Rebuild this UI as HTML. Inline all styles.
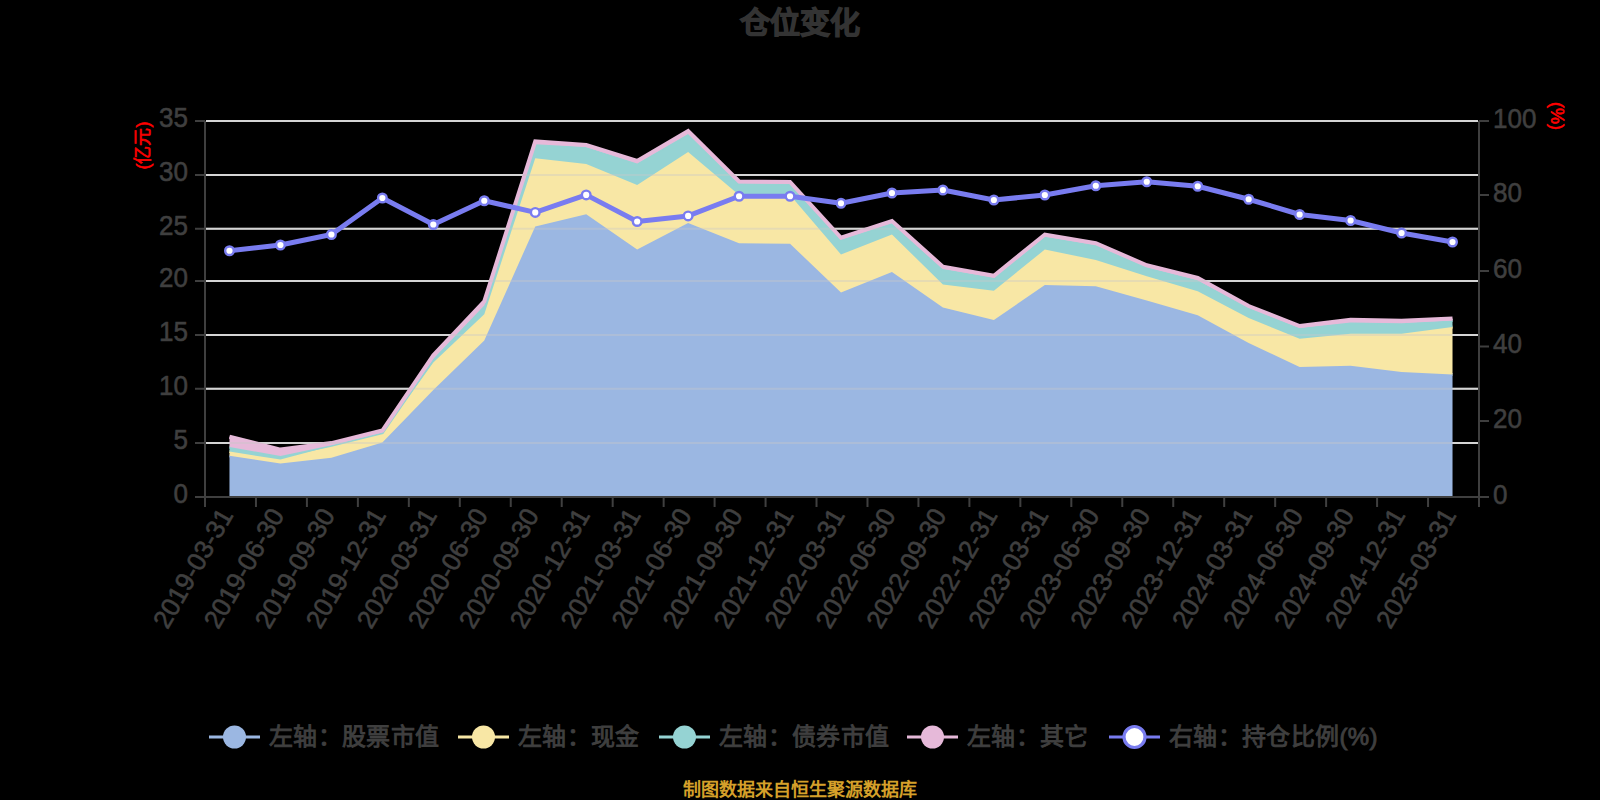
<!DOCTYPE html>
<html lang="zh-CN"><head><meta charset="utf-8"><style>
html,body{margin:0;padding:0;background:#000;width:1600px;height:800px;overflow:hidden}
svg{display:block}
text{font-family:"Liberation Sans",sans-serif}
.yl{font-size:28px;fill:#3f3f3f;stroke:#3f3f3f;stroke-width:0.6px}
.xl{font-size:26px;fill:#3f3f3f;stroke:#3f3f3f;stroke-width:0.6px}
.an{font-size:18px;fill:#ff0000;stroke:#ff0000;stroke-width:0.6px}
.lg{font-size:24px;letter-spacing:0.35px;fill:#3f3f3f;stroke:#3f3f3f;stroke-width:0.9px}
.tt{font-size:30px;font-weight:bold;fill:#333;stroke:#333;stroke-width:1.2px}
.ft{font-size:18px;font-weight:bold;fill:#d5a02a}
</style></head><body>
<svg width="1600" height="800" viewBox="0 0 1600 800">
<line x1="206.0" y1="121.0" x2="1478.0" y2="121.0" stroke="#dedede" stroke-width="2"/>
<line x1="206.0" y1="175.0" x2="1478.0" y2="175.0" stroke="#dedede" stroke-width="2"/>
<line x1="206.0" y1="228.75" x2="1478.0" y2="228.75" stroke="#dedede" stroke-width="2"/>
<line x1="206.0" y1="281.0" x2="1478.0" y2="281.0" stroke="#dedede" stroke-width="2"/>
<line x1="206.0" y1="335.0" x2="1478.0" y2="335.0" stroke="#dedede" stroke-width="2"/>
<line x1="206.0" y1="388.75" x2="1478.0" y2="388.75" stroke="#dedede" stroke-width="2"/>
<line x1="206.0" y1="443.0" x2="1478.0" y2="443.0" stroke="#dedede" stroke-width="2"/>
<polygon points="229.48,455.80 280.44,463.60 331.40,457.70 382.36,442.50 433.32,390.00 484.28,340.50 535.24,226.40 586.20,214.15 637.16,249.50 688.12,222.90 739.08,243.25 790.04,243.75 841.00,292.50 891.96,272.00 942.92,307.50 993.88,320.00 1044.84,285.00 1095.80,286.25 1146.76,300.50 1197.72,315.25 1248.68,343.00 1299.64,367.00 1350.60,365.75 1401.56,372.00 1452.52,374.50 1452.52,497.00 1401.56,497.00 1350.60,497.00 1299.64,497.00 1248.68,497.00 1197.72,497.00 1146.76,497.00 1095.80,497.00 1044.84,497.00 993.88,497.00 942.92,497.00 891.96,497.00 841.00,497.00 790.04,497.00 739.08,497.00 688.12,497.00 637.16,497.00 586.20,497.00 535.24,497.00 484.28,497.00 433.32,497.00 382.36,497.00 331.40,497.00 280.44,497.00 229.48,497.00" fill="#9bb7e2"/>
<polyline points="229.48,455.80 280.44,463.60 331.40,457.70 382.36,442.50 433.32,390.00 484.28,340.50 535.24,226.40 586.20,214.15 637.16,249.50 688.12,222.90 739.08,243.25 790.04,243.75 841.00,292.50 891.96,272.00 942.92,307.50 993.88,320.00 1044.84,285.00 1095.80,286.25 1146.76,300.50 1197.72,315.25 1248.68,343.00 1299.64,367.00 1350.60,365.75 1401.56,372.00 1452.52,374.50" fill="none" stroke="#9bb7e2" stroke-width="3.0" stroke-linejoin="miter"/>
<polygon points="229.48,451.50 280.44,459.60 331.40,445.90 382.36,433.50 433.32,362.50 484.28,314.25 535.24,158.15 586.20,164.10 637.16,185.10 688.12,152.00 739.08,195.00 790.04,195.00 841.00,254.50 891.96,234.50 942.92,284.50 993.88,290.75 1044.84,249.50 1095.80,260.00 1146.76,276.25 1197.72,291.25 1248.68,318.00 1299.64,338.75 1350.60,333.75 1401.56,333.75 1452.52,327.00 1452.52,374.50 1401.56,372.00 1350.60,365.75 1299.64,367.00 1248.68,343.00 1197.72,315.25 1146.76,300.50 1095.80,286.25 1044.84,285.00 993.88,320.00 942.92,307.50 891.96,272.00 841.00,292.50 790.04,243.75 739.08,243.25 688.12,222.90 637.16,249.50 586.20,214.15 535.24,226.40 484.28,340.50 433.32,390.00 382.36,442.50 331.40,457.70 280.44,463.60 229.48,455.80" fill="#f8e7a5"/>
<polyline points="229.48,451.50 280.44,459.60 331.40,445.90 382.36,433.50 433.32,362.50 484.28,314.25 535.24,158.15 586.20,164.10 637.16,185.10 688.12,152.00 739.08,195.00 790.04,195.00 841.00,254.50 891.96,234.50 942.92,284.50 993.88,290.75 1044.84,249.50 1095.80,260.00 1146.76,276.25 1197.72,291.25 1248.68,318.00 1299.64,338.75 1350.60,333.75 1401.56,333.75 1452.52,327.00" fill="none" stroke="#f8e7a5" stroke-width="3.0" stroke-linejoin="miter"/>
<polygon points="229.48,447.00 280.44,456.00 331.40,445.30 382.36,432.60 433.32,358.75 484.28,305.50 535.24,144.15 586.20,147.10 637.16,163.40 688.12,134.00 739.08,183.25 790.04,183.75 841.00,239.50 891.96,223.00 942.92,269.00 993.88,277.50 1044.84,236.75 1095.80,245.00 1146.76,267.00 1197.72,280.25 1248.68,307.50 1299.64,328.00 1350.60,322.50 1401.56,323.25 1452.52,320.50 1452.52,327.00 1401.56,333.75 1350.60,333.75 1299.64,338.75 1248.68,318.00 1197.72,291.25 1146.76,276.25 1095.80,260.00 1044.84,249.50 993.88,290.75 942.92,284.50 891.96,234.50 841.00,254.50 790.04,195.00 739.08,195.00 688.12,152.00 637.16,185.10 586.20,164.10 535.24,158.15 484.28,314.25 433.32,362.50 382.36,433.50 331.40,445.90 280.44,459.60 229.48,451.50" fill="#95d3d3"/>
<polyline points="229.48,447.00 280.44,456.00 331.40,445.30 382.36,432.60 433.32,358.75 484.28,305.50 535.24,144.15 586.20,147.10 637.16,163.40 688.12,134.00 739.08,183.25 790.04,183.75 841.00,239.50 891.96,223.00 942.92,269.00 993.88,277.50 1044.84,236.75 1095.80,245.00 1146.76,267.00 1197.72,280.25 1248.68,307.50 1299.64,328.00 1350.60,322.50 1401.56,323.25 1452.52,320.50" fill="none" stroke="#95d3d3" stroke-width="3.0" stroke-linejoin="miter"/>
<polygon points="229.48,436.70 280.44,449.60 331.40,443.10 382.36,430.50 433.32,355.25 484.28,301.40 535.24,141.30 586.20,145.10 637.16,160.90 688.12,131.10 739.08,181.50 790.04,182.00 841.00,237.75 891.96,221.00 942.92,266.75 993.88,275.75 1044.84,234.50 1095.80,243.25 1146.76,265.25 1197.72,278.00 1248.68,306.00 1299.64,326.00 1350.60,319.75 1401.56,320.75 1452.52,318.50 1452.52,320.50 1401.56,323.25 1350.60,322.50 1299.64,328.00 1248.68,307.50 1197.72,280.25 1146.76,267.00 1095.80,245.00 1044.84,236.75 993.88,277.50 942.92,269.00 891.96,223.00 841.00,239.50 790.04,183.75 739.08,183.25 688.12,134.00 637.16,163.40 586.20,147.10 535.24,144.15 484.28,305.50 433.32,358.75 382.36,432.60 331.40,445.30 280.44,456.00 229.48,447.00" fill="#e6b9d9"/>
<polyline points="229.48,436.70 280.44,449.60 331.40,443.10 382.36,430.50 433.32,355.25 484.28,301.40 535.24,141.30 586.20,145.10 637.16,160.90 688.12,131.10 739.08,181.50 790.04,182.00 841.00,237.75 891.96,221.00 942.92,266.75 993.88,275.75 1044.84,234.50 1095.80,243.25 1146.76,265.25 1197.72,278.00 1248.68,306.00 1299.64,326.00 1350.60,319.75 1401.56,320.75 1452.52,318.50" fill="none" stroke="#e6b9d9" stroke-width="4.0" stroke-linejoin="miter"/>
<line x1="206.0" y1="121.0" x2="1478.0" y2="121.0" stroke="#c8c8c8" stroke-opacity="0.38" stroke-width="2"/>
<line x1="206.0" y1="175.0" x2="1478.0" y2="175.0" stroke="#c8c8c8" stroke-opacity="0.38" stroke-width="2"/>
<line x1="206.0" y1="228.75" x2="1478.0" y2="228.75" stroke="#c8c8c8" stroke-opacity="0.38" stroke-width="2"/>
<line x1="206.0" y1="281.0" x2="1478.0" y2="281.0" stroke="#c8c8c8" stroke-opacity="0.38" stroke-width="2"/>
<line x1="206.0" y1="335.0" x2="1478.0" y2="335.0" stroke="#c8c8c8" stroke-opacity="0.38" stroke-width="2"/>
<line x1="206.0" y1="388.75" x2="1478.0" y2="388.75" stroke="#c8c8c8" stroke-opacity="0.38" stroke-width="2"/>
<line x1="206.0" y1="443.0" x2="1478.0" y2="443.0" stroke="#c8c8c8" stroke-opacity="0.38" stroke-width="2"/>
<line x1="205.0" y1="121" x2="205.0" y2="507.0" stroke="#3f3f3f" stroke-width="2"/>
<line x1="1479.0" y1="121" x2="1479.0" y2="507.0" stroke="#3f3f3f" stroke-width="2"/>
<line x1="195.0" y1="497.0" x2="1489.0" y2="497.0" stroke="#3f3f3f" stroke-width="2"/>
<line x1="195.0" y1="121.0" x2="205.0" y2="121.0" stroke="#3f3f3f" stroke-width="2"/>
<line x1="195.0" y1="175.0" x2="205.0" y2="175.0" stroke="#3f3f3f" stroke-width="2"/>
<line x1="195.0" y1="228.75" x2="205.0" y2="228.75" stroke="#3f3f3f" stroke-width="2"/>
<line x1="195.0" y1="281.0" x2="205.0" y2="281.0" stroke="#3f3f3f" stroke-width="2"/>
<line x1="195.0" y1="335.0" x2="205.0" y2="335.0" stroke="#3f3f3f" stroke-width="2"/>
<line x1="195.0" y1="388.75" x2="205.0" y2="388.75" stroke="#3f3f3f" stroke-width="2"/>
<line x1="195.0" y1="443.0" x2="205.0" y2="443.0" stroke="#3f3f3f" stroke-width="2"/>
<line x1="195.0" y1="497.0" x2="205.0" y2="497.0" stroke="#3f3f3f" stroke-width="2"/>
<line x1="1479.0" y1="121.0" x2="1489.0" y2="121.0" stroke="#3f3f3f" stroke-width="2"/>
<line x1="1479.0" y1="195.0" x2="1489.0" y2="195.0" stroke="#3f3f3f" stroke-width="2"/>
<line x1="1479.0" y1="271.0" x2="1489.0" y2="271.0" stroke="#3f3f3f" stroke-width="2"/>
<line x1="1479.0" y1="346.5" x2="1489.0" y2="346.5" stroke="#3f3f3f" stroke-width="2"/>
<line x1="1479.0" y1="421.0" x2="1489.0" y2="421.0" stroke="#3f3f3f" stroke-width="2"/>
<line x1="1479.0" y1="497.0" x2="1489.0" y2="497.0" stroke="#3f3f3f" stroke-width="2"/>
<line x1="255.96" y1="497.0" x2="255.96" y2="507.0" stroke="#3f3f3f" stroke-width="2"/>
<line x1="306.92" y1="497.0" x2="306.92" y2="507.0" stroke="#3f3f3f" stroke-width="2"/>
<line x1="357.88" y1="497.0" x2="357.88" y2="507.0" stroke="#3f3f3f" stroke-width="2"/>
<line x1="408.84" y1="497.0" x2="408.84" y2="507.0" stroke="#3f3f3f" stroke-width="2"/>
<line x1="459.80" y1="497.0" x2="459.80" y2="507.0" stroke="#3f3f3f" stroke-width="2"/>
<line x1="510.76" y1="497.0" x2="510.76" y2="507.0" stroke="#3f3f3f" stroke-width="2"/>
<line x1="561.72" y1="497.0" x2="561.72" y2="507.0" stroke="#3f3f3f" stroke-width="2"/>
<line x1="612.68" y1="497.0" x2="612.68" y2="507.0" stroke="#3f3f3f" stroke-width="2"/>
<line x1="663.64" y1="497.0" x2="663.64" y2="507.0" stroke="#3f3f3f" stroke-width="2"/>
<line x1="714.60" y1="497.0" x2="714.60" y2="507.0" stroke="#3f3f3f" stroke-width="2"/>
<line x1="765.56" y1="497.0" x2="765.56" y2="507.0" stroke="#3f3f3f" stroke-width="2"/>
<line x1="816.52" y1="497.0" x2="816.52" y2="507.0" stroke="#3f3f3f" stroke-width="2"/>
<line x1="867.48" y1="497.0" x2="867.48" y2="507.0" stroke="#3f3f3f" stroke-width="2"/>
<line x1="918.44" y1="497.0" x2="918.44" y2="507.0" stroke="#3f3f3f" stroke-width="2"/>
<line x1="969.40" y1="497.0" x2="969.40" y2="507.0" stroke="#3f3f3f" stroke-width="2"/>
<line x1="1020.36" y1="497.0" x2="1020.36" y2="507.0" stroke="#3f3f3f" stroke-width="2"/>
<line x1="1071.32" y1="497.0" x2="1071.32" y2="507.0" stroke="#3f3f3f" stroke-width="2"/>
<line x1="1122.28" y1="497.0" x2="1122.28" y2="507.0" stroke="#3f3f3f" stroke-width="2"/>
<line x1="1173.24" y1="497.0" x2="1173.24" y2="507.0" stroke="#3f3f3f" stroke-width="2"/>
<line x1="1224.20" y1="497.0" x2="1224.20" y2="507.0" stroke="#3f3f3f" stroke-width="2"/>
<line x1="1275.16" y1="497.0" x2="1275.16" y2="507.0" stroke="#3f3f3f" stroke-width="2"/>
<line x1="1326.12" y1="497.0" x2="1326.12" y2="507.0" stroke="#3f3f3f" stroke-width="2"/>
<line x1="1377.08" y1="497.0" x2="1377.08" y2="507.0" stroke="#3f3f3f" stroke-width="2"/>
<line x1="1428.04" y1="497.0" x2="1428.04" y2="507.0" stroke="#3f3f3f" stroke-width="2"/>
<polyline points="229.48,250.75 280.44,245.00 331.40,234.50 382.36,198.00 433.32,224.50 484.28,200.75 535.24,212.40 586.20,194.90 637.16,221.50 688.12,215.90 739.08,196.25 790.04,196.25 841.00,203.25 891.96,193.00 942.92,190.00 993.88,200.00 1044.84,195.00 1095.80,185.75 1146.76,181.75 1197.72,186.25 1248.68,199.25 1299.64,214.50 1350.60,220.50 1401.56,233.00 1452.52,242.00" fill="none" stroke="#797cf0" stroke-width="5" stroke-linejoin="round"/>
<circle cx="229.48" cy="250.75" r="4.3" fill="#fff" stroke="#797cf0" stroke-width="2.4"/>
<circle cx="280.44" cy="245.00" r="4.3" fill="#fff" stroke="#797cf0" stroke-width="2.4"/>
<circle cx="331.40" cy="234.50" r="4.3" fill="#fff" stroke="#797cf0" stroke-width="2.4"/>
<circle cx="382.36" cy="198.00" r="4.3" fill="#fff" stroke="#797cf0" stroke-width="2.4"/>
<circle cx="433.32" cy="224.50" r="4.3" fill="#fff" stroke="#797cf0" stroke-width="2.4"/>
<circle cx="484.28" cy="200.75" r="4.3" fill="#fff" stroke="#797cf0" stroke-width="2.4"/>
<circle cx="535.24" cy="212.40" r="4.3" fill="#fff" stroke="#797cf0" stroke-width="2.4"/>
<circle cx="586.20" cy="194.90" r="4.3" fill="#fff" stroke="#797cf0" stroke-width="2.4"/>
<circle cx="637.16" cy="221.50" r="4.3" fill="#fff" stroke="#797cf0" stroke-width="2.4"/>
<circle cx="688.12" cy="215.90" r="4.3" fill="#fff" stroke="#797cf0" stroke-width="2.4"/>
<circle cx="739.08" cy="196.25" r="4.3" fill="#fff" stroke="#797cf0" stroke-width="2.4"/>
<circle cx="790.04" cy="196.25" r="4.3" fill="#fff" stroke="#797cf0" stroke-width="2.4"/>
<circle cx="841.00" cy="203.25" r="4.3" fill="#fff" stroke="#797cf0" stroke-width="2.4"/>
<circle cx="891.96" cy="193.00" r="4.3" fill="#fff" stroke="#797cf0" stroke-width="2.4"/>
<circle cx="942.92" cy="190.00" r="4.3" fill="#fff" stroke="#797cf0" stroke-width="2.4"/>
<circle cx="993.88" cy="200.00" r="4.3" fill="#fff" stroke="#797cf0" stroke-width="2.4"/>
<circle cx="1044.84" cy="195.00" r="4.3" fill="#fff" stroke="#797cf0" stroke-width="2.4"/>
<circle cx="1095.80" cy="185.75" r="4.3" fill="#fff" stroke="#797cf0" stroke-width="2.4"/>
<circle cx="1146.76" cy="181.75" r="4.3" fill="#fff" stroke="#797cf0" stroke-width="2.4"/>
<circle cx="1197.72" cy="186.25" r="4.3" fill="#fff" stroke="#797cf0" stroke-width="2.4"/>
<circle cx="1248.68" cy="199.25" r="4.3" fill="#fff" stroke="#797cf0" stroke-width="2.4"/>
<circle cx="1299.64" cy="214.50" r="4.3" fill="#fff" stroke="#797cf0" stroke-width="2.4"/>
<circle cx="1350.60" cy="220.50" r="4.3" fill="#fff" stroke="#797cf0" stroke-width="2.4"/>
<circle cx="1401.56" cy="233.00" r="4.3" fill="#fff" stroke="#797cf0" stroke-width="2.4"/>
<circle cx="1452.52" cy="242.00" r="4.3" fill="#fff" stroke="#797cf0" stroke-width="2.4"/>
<text transform="translate(188.0,127.3) scale(0.93,1)" class="yl" text-anchor="end">35</text>
<text transform="translate(188.0,181.3) scale(0.93,1)" class="yl" text-anchor="end">30</text>
<text transform="translate(188.0,235.05) scale(0.93,1)" class="yl" text-anchor="end">25</text>
<text transform="translate(188.0,287.3) scale(0.93,1)" class="yl" text-anchor="end">20</text>
<text transform="translate(188.0,341.3) scale(0.93,1)" class="yl" text-anchor="end">15</text>
<text transform="translate(188.0,395.05) scale(0.93,1)" class="yl" text-anchor="end">10</text>
<text transform="translate(188.0,449.3) scale(0.93,1)" class="yl" text-anchor="end">5</text>
<text transform="translate(188.0,503.3) scale(0.93,1)" class="yl" text-anchor="end">0</text>
<text transform="translate(1493.0,127.5) scale(0.93,1)" class="yl" text-anchor="start">100</text>
<text transform="translate(1493.0,201.5) scale(0.93,1)" class="yl" text-anchor="start">80</text>
<text transform="translate(1493.0,277.5) scale(0.93,1)" class="yl" text-anchor="start">60</text>
<text transform="translate(1493.0,353.0) scale(0.93,1)" class="yl" text-anchor="start">40</text>
<text transform="translate(1493.0,427.5) scale(0.93,1)" class="yl" text-anchor="start">20</text>
<text transform="translate(1493.0,503.5) scale(0.93,1)" class="yl" text-anchor="start">0</text>
<text class="xl" text-anchor="end" transform="translate(226.98,511.0) rotate(-60)" x="0" y="8">2019-03-31</text>
<text class="xl" text-anchor="end" transform="translate(277.94,511.0) rotate(-60)" x="0" y="8">2019-06-30</text>
<text class="xl" text-anchor="end" transform="translate(328.90,511.0) rotate(-60)" x="0" y="8">2019-09-30</text>
<text class="xl" text-anchor="end" transform="translate(379.86,511.0) rotate(-60)" x="0" y="8">2019-12-31</text>
<text class="xl" text-anchor="end" transform="translate(430.82,511.0) rotate(-60)" x="0" y="8">2020-03-31</text>
<text class="xl" text-anchor="end" transform="translate(481.78,511.0) rotate(-60)" x="0" y="8">2020-06-30</text>
<text class="xl" text-anchor="end" transform="translate(532.74,511.0) rotate(-60)" x="0" y="8">2020-09-30</text>
<text class="xl" text-anchor="end" transform="translate(583.70,511.0) rotate(-60)" x="0" y="8">2020-12-31</text>
<text class="xl" text-anchor="end" transform="translate(634.66,511.0) rotate(-60)" x="0" y="8">2021-03-31</text>
<text class="xl" text-anchor="end" transform="translate(685.62,511.0) rotate(-60)" x="0" y="8">2021-06-30</text>
<text class="xl" text-anchor="end" transform="translate(736.58,511.0) rotate(-60)" x="0" y="8">2021-09-30</text>
<text class="xl" text-anchor="end" transform="translate(787.54,511.0) rotate(-60)" x="0" y="8">2021-12-31</text>
<text class="xl" text-anchor="end" transform="translate(838.50,511.0) rotate(-60)" x="0" y="8">2022-03-31</text>
<text class="xl" text-anchor="end" transform="translate(889.46,511.0) rotate(-60)" x="0" y="8">2022-06-30</text>
<text class="xl" text-anchor="end" transform="translate(940.42,511.0) rotate(-60)" x="0" y="8">2022-09-30</text>
<text class="xl" text-anchor="end" transform="translate(991.38,511.0) rotate(-60)" x="0" y="8">2022-12-31</text>
<text class="xl" text-anchor="end" transform="translate(1042.34,511.0) rotate(-60)" x="0" y="8">2023-03-31</text>
<text class="xl" text-anchor="end" transform="translate(1093.30,511.0) rotate(-60)" x="0" y="8">2023-06-30</text>
<text class="xl" text-anchor="end" transform="translate(1144.26,511.0) rotate(-60)" x="0" y="8">2023-09-30</text>
<text class="xl" text-anchor="end" transform="translate(1195.22,511.0) rotate(-60)" x="0" y="8">2023-12-31</text>
<text class="xl" text-anchor="end" transform="translate(1246.18,511.0) rotate(-60)" x="0" y="8">2024-03-31</text>
<text class="xl" text-anchor="end" transform="translate(1297.14,511.0) rotate(-60)" x="0" y="8">2024-06-30</text>
<text class="xl" text-anchor="end" transform="translate(1348.10,511.0) rotate(-60)" x="0" y="8">2024-09-30</text>
<text class="xl" text-anchor="end" transform="translate(1399.06,511.0) rotate(-60)" x="0" y="8">2024-12-31</text>
<text class="xl" text-anchor="end" transform="translate(1450.02,511.0) rotate(-60)" x="0" y="8">2025-03-31</text>
<text class="an" transform="translate(149,145.5) rotate(-90)" text-anchor="middle">(亿元)</text>
<text class="an" transform="translate(1551,116) rotate(90)" text-anchor="middle">(%)</text>
<line x1="209" y1="737" x2="260" y2="737" stroke="#9bb7e2" stroke-width="3"/>
<circle cx="234.5" cy="737" r="11.5" fill="#9bb7e2"/>
<text class="lg" x="269" y="745">左轴：股票市值</text>
<line x1="458" y1="737" x2="509" y2="737" stroke="#f8e7a5" stroke-width="3"/>
<circle cx="483.5" cy="737" r="11.5" fill="#f8e7a5"/>
<text class="lg" x="518" y="745">左轴：现金</text>
<line x1="659" y1="737" x2="710" y2="737" stroke="#95d3d3" stroke-width="3"/>
<circle cx="684.5" cy="737" r="11.5" fill="#95d3d3"/>
<text class="lg" x="719" y="745">左轴：债券市值</text>
<line x1="907" y1="737" x2="958" y2="737" stroke="#e6b9d9" stroke-width="3"/>
<circle cx="932.5" cy="737" r="11.5" fill="#e6b9d9"/>
<text class="lg" x="967" y="745">左轴：其它</text>
<line x1="1109" y1="737" x2="1160" y2="737" stroke="#797cf0" stroke-width="3"/>
<circle cx="1134.5" cy="737" r="10.5" fill="#fff" stroke="#797cf0" stroke-width="3.2"/>
<text class="lg" x="1169" y="745">右轴：持仓比例(%)</text>
<text class="tt" x="800" y="33" text-anchor="middle">仓位变化</text>
<text class="ft" x="800" y="796" text-anchor="middle">制图数据来自恒生聚源数据库</text>
</svg>
</body></html>
